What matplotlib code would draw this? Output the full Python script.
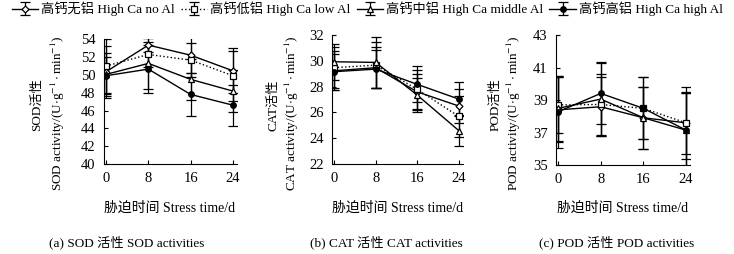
import numpy as np
import matplotlib
matplotlib.use("Agg")
import matplotlib.pyplot as plt

plt.rcParams['font.family'] = ['Liberation Serif', 'Noto Sans CJK SC', 'DejaVu Serif']
plt.rcParams['mathtext.fontset'] = 'stix'

days = [0, 8, 16, 24]
series_names = ["高钙无铝 High Ca no Al", "高钙低铝 High Ca low Al",
                "高钙中铝 High Ca middle Al", "高钙高铝 High Ca high Al"]

# SOD
sod_no = [50.35, 53.33, 52.2, 50.45]
sod_low = [50.98, 52.28, 51.65, 49.9]
sod_mid = [50.05, 51.28, 49.49, 48.18]
sod_high = [49.9, 50.64, 47.8, 46.6]
sod_no_err = [2.9, 0.8, 2.0, 2.5]
sod_low_err = [3.0, 1.4, 1.9, 2.8]
sod_mid_err = [2.4, 2.9, 2.3, 2.4]
sod_high_err = [2.1, 2.7, 2.4, 2.3]

# CAT
cat_no = [29.23, 29.47, 27.6, 26.5]
cat_low = [29.47, 29.67, 27.79, 25.7]
cat_mid = [29.93, 29.88, 27.35, 24.6]
cat_high = [29.16, 29.36, 28.18, 27.04]
cat_no_err = [1.5, 1.6, 1.4, 1.3]
cat_low_err = [1.6, 1.8, 1.5, 1.6]
cat_mid_err = [1.4, 2.0, 1.3, 1.2]
cat_high_err = [1.4, 1.5, 1.4, 1.3]

# POD
pod_no = [38.4, 38.59, 37.91, 37.6]
pod_low = [38.7, 38.73, 38.49, 37.6]
pod_mid = [38.49, 39.06, 37.91, 37.15]
pod_high = [38.28, 39.41, 38.49, 37.15]
pod_no_err = [2.0, 1.8, 1.9, 1.9]
pod_low_err = [1.7, 1.9, 1.9, 2.2]
pod_mid_err = [2.0, 2.3, 1.9, 2.3]
pod_high_err = [2.2, 1.9, 1.9, 2.3]

styles = [
    dict(marker='D', mfc='white', ms=3.5, ls='-'),
    dict(marker='s', mfc='white', ms=4, ls=':'),
    dict(marker='^', mfc='white', ms=4.5, ls='-'),
    dict(marker='o', mfc='black', ms=4, ls='-'),
]

panels = [
    dict(rect=[0.1417, 0.354, 0.181, 0.492], ylim=(40, 54), yticks=np.arange(40, 55, 2),
         data=[sod_no, sod_low, sod_mid, sod_high],
         err=[sod_no_err, sod_low_err, sod_mid_err, sod_high_err],
         name="SOD", lab_x=(37, 58), xl=170, cap="(a) SOD 活性 SOD activities", cap_x=127),
    dict(rect=[0.4523, 0.354, 0.178, 0.508], ylim=(22, 32), yticks=np.arange(22, 33, 2),
         data=[cat_no, cat_low, cat_mid, cat_high],
         err=[cat_no_err, cat_low_err, cat_mid_err, cat_high_err],
         name="CAT", lab_x=(274, 292), xl=398, cap="(b) CAT 活性 CAT activities", cap_x=386),
    dict(rect=[0.7575, 0.350, 0.1826, 0.512], ylim=(35, 43), yticks=np.arange(35, 44, 2),
         data=[pod_no, pod_low, pod_mid, pod_high],
         err=[pod_no_err, pod_low_err, pod_mid_err, pod_high_err],
         name="POD", lab_x=(496, 514), xl=623, cap="(c) POD 活性 POD activities", cap_x=617),
]

W, H = 734, 254
fig = plt.figure(figsize=(W / 100, H / 100), dpi=100)

handles = []
for p in panels:
    ax = fig.add_axes(p["rect"])
    for vals, errs, st in zip(p["data"], p["err"], styles):
        h = ax.errorbar(days, vals, yerr=errs, color='black', lw=1.0, elinewidth=0.9,
                        capsize=3.5, capthick=0.9, mec='black', mew=0.9, **st)
        if p["name"] == "SOD":
            handles.append(h)
    ax.set_xlim(-0.4, 24.75)
    ax.set_ylim(*p["ylim"])
    ax.set_xticks(days)
    ax.set_yticks(p["yticks"])
    ax.spines['top'].set_visible(False)
    ax.spines['right'].set_visible(False)
    ax.tick_params(direction='in', labelsize=10.5, length=3, width=0.8, pad=6)
    fig.text(p["lab_x"][0] / W, 1 - 105 / H, p["name"] + "活性", rotation=90,
             ha='center', va='center', fontsize=9.5)
    fig.text(p["lab_x"][1] / W, 1 - 113 / H,
             p["name"] + r" activity/(U$\cdot$g$^{-1}\cdot$min$^{-1}$)", rotation=90,
             ha='center', va='center', fontsize=9.5)
    fig.text(p["xl"] / W, 1 - 208 / H, "胁迫时间 Stress time/d", ha='center', va='center',
             fontsize=10)
    fig.text(p["cap_x"] / W, 1 - 242 / H, p["cap"], ha='center', va='center', fontsize=9.5)

fig.legend(handles, series_names, loc='center', bbox_to_anchor=(0.5, 1 - 9 / H), ncol=4,
           frameon=False, fontsize=9.5, handlelength=2.0, handletextpad=0.2,
           columnspacing=0.5, borderaxespad=0)

fig.savefig("out.png", dpi=100)
